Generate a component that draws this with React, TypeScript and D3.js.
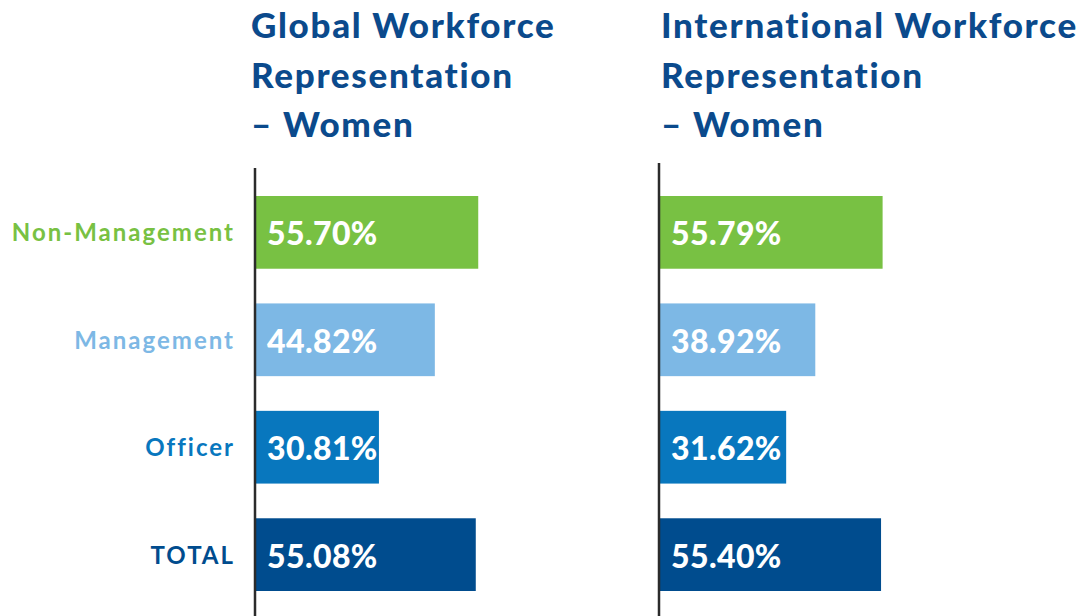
import React from "react";
import * as d3 from "d3";

const categories = ["Non-Management", "Management", "Officer", "TOTAL"];
const globalValues = [55.7, 44.82, 30.81, 55.08];
const internationalValues = [55.79, 38.92, 31.62, 55.4];
const globalTitle = ["Global Workforce", "Representation", "– Women"];
const internationalTitle = ["International Workforce", "Representation", "– Women"];
const colors = ["#78C143", "#7DB8E5", "#0877BE", "#004C8E"];

const W = 1081;
const H = 616;
const FONT = "Lato, 'Open Sans', sans-serif";

const y = d3.scaleBand<string>().domain(categories).range([196, 591]).paddingInner(0.323).paddingOuter(0);
const x = d3.scaleLinear().domain([0, 100]).range([0, 399]);

function Panel({ x0, titleX, axisTop, title, values, showLabels }: { x0: number; titleX: number; axisTop: number; title: string[]; values: number[]; showLabels: boolean }) {
  return (
    <g>
      {title.map((t, i) => (
        <text key={t} x={titleX} y={38 + i * 49.5} fill="#0B4A8C" fontFamily={FONT} fontWeight={900} fontSize={35} letterSpacing={1.7}>
          {t}
        </text>
      ))}
      {categories.map((c, i) => (
        <g key={c}>
          <rect x={x0 + 1} y={y(c)} width={x(values[i])} height={y.bandwidth()} fill={colors[i]} />
          <text x={x0 + 12} y={(y(c) as number) + y.bandwidth() / 2 + 13} fill="#fff" fontFamily={FONT} fontWeight={900} fontSize={32} letterSpacing={0.4}>
            {values[i].toFixed(2)}%
          </text>
          {showLabels && (
            <text x={x0 - 20} y={(y(c) as number) + y.bandwidth() / 2 + 9} textAnchor="end" fill={colors[i]} fontFamily={FONT} fontWeight={700} fontSize={24} letterSpacing={2}>
              {c}
            </text>
          )}
        </g>
      ))}
      <line x1={x0} x2={x0} y1={axisTop} y2={H} stroke="#2b2b2b" strokeWidth={2.5} />
    </g>
  );
}

export default function App() {
  return (
    <svg width={W} height={H} style={{ position: "absolute", left: 0, top: 0, background: "#fff" }}>
      <rect width={W} height={H} fill="#fff" />
      <Panel x0={255} titleX={251} axisTop={168} title={globalTitle} values={globalValues} showLabels={true} />
      <Panel x0={659} titleX={661} axisTop={163} title={internationalTitle} values={internationalValues} showLabels={false} />
    </svg>
  );
}
